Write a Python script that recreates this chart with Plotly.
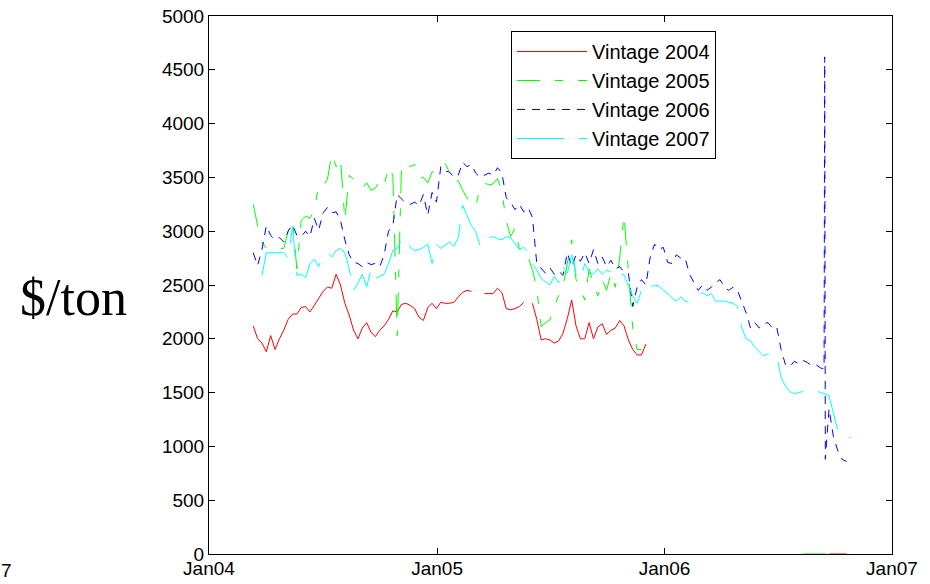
import pandas as pd
import plotly.graph_objects as go

# Weekly price observations ($/ton) for each contract vintage
week_dates = pd.date_range("2004-03-12", periods=138, freq="7D")

vintage_2004 = [
    2120, 2000, 1960, 1880, 2030, 1900, 2000, 2080, 2180, 2230,
    2230, 2290, 2300, 2250, 2310, 2370, 2440, 2480, 2470, 2600,
    2500, 2330, 2220, 2080, 2000, 2100, 2150, 2060, 2020, 2080,
    2120, 2180, 2260, 2250, 2320, 2330, 2310, 2280, 2200, 2170,
    2290, 2330, 2280, 2340, 2330, 2330, 2340, 2390, 2430, 2450,
    2440, None, None, 2420, 2420, 2420, 2470, 2430, 2280, 2270,
    2280, 2300, 2340, None, 2330, 2180, 1990, 2000, 1990, 1960,
    1980, 2050, 2190, 2360, 2120, 2000, 2000, 2150, 2000, 2110,
    2140, 2040, 2080, 2100, 2170, 2120, 1990, 1900, 1850, 1850,
    1950, None, None, None, None, None, None, None, None, None,
    None, None, None, None, None, None, None, None, None, None,
    None, None, None, None, None, None, None, None, None, None,
    None, None, None, None, None, None, None, None, None, None,
    None, None, 0, 0, 0, 0, 0, None,
]

vintage_2005 = [
    3250, 3050, 2900, 2840, 2840, 2840, 2840, 2840, 3000, 3100,
    2650, 3100, 3140, 3120, 3200, 3430, 3420, 3480, 3720, 3600,
    3680, 3100, 3520, 3480, 3420, 3400, 3450, 3380, 3400, 3470,
    3420, 3600, 3520, 2030, 3630, 3630, 3600, 3620, 3490, 3500,
    3450, 3550, 3550, 3600, 3630, 3540, 3460, 3470, 3380, 3310,
    3240, 3230, 3400, 3450, 3430, 3440, 3490, 3360, 3100, 2950,
    3030, 2830, 2760, 2760, 2640, 2470, 2110, 2150, 2175, 2300,
    2400, 2480, 2700, 2920, 2550, 2450, 2360, 2650, 2500, 2400,
    2550, 2450, 2610, 2480, 2750, 3150, 2650, 2100, 1900, 1900,
    None, None, None, None, None, None, None, None, None, None,
    None, None, None, None, None, None, None, None, None, None,
    None, None, None, None, None, None, None, None, None, None,
    None, None, None, None, None, None, 0, 0, 0, 0,
    0, 0, 0, None, None, None, None, None,
]

vintage_2006 = [
    2800, 2680, 2830, 3050, 2960, 2920, 2940, 2900, 3000, 3060,
    2960, 2950, 3000, 2950, 3120, 3010, 3170, 3220, 3170, 3180,
    3100, 2920, 2780, 2710, 2700, 2670, 2710, 2690, 2700, 2670,
    2780, 3000, 3050, 3340, 3300, 3260, 3250, 3270, 3240, 3340,
    3150, 3360, 3270, 3600, 3560, 3550, 3500, 3520, 3640, 3600,
    3620, 3540, 3500, 3520, 3540, 3520, 3590, 3540, 3310, 3270,
    3200, 3250, 3180, 3220, 3130, 2700, 2650, 2610, 2660, 2600,
    2630, 2590, 2800, 2670, 2780, 2720, 2800, 2700, 2830, 2700,
    2760, 2670, 2730, 2650, 2670, 2620, 2610, 2300, 2480, 2550,
    2500, 2760, 2880, 2830, 2850, 2710, 2700, 2780, 2750, 2750,
    2600, 2530, 2450, 2500, 2450, 2480, 2520, 2550, 2480, 2450,
    2480, 2450, 2350, 2240, 2100, 2150, 2100, 2140, 2150, 2100,
    2110, 1900, 1760, 1740, 1790, 1770, 1800, 1780, 1750, 1760,
    1730, 4620, 1350, 1090, 960, 880, 860, None,
]

# Daily quotes around the September 2006 spike in the 2006 vintage
vintage_2006_daily_dates = ["2006-09-14", "2006-09-16"]
vintage_2006_daily_values = [1720, 880]

vintage_2007 = [
    None, None, 2590, 2800, 2800, 2800, 2800, 2800, 2750, 3040,
    2590, 2600, 2570, 2700, 2740, 2670, 2780, 2800, 2760, 2820,
    2840, 2800, 2650, 2450, 2520, 2600, 2480, 2650, 2560, 2580,
    2600, 2700, 2820, 2840, 2920, 2940, 2850, 2820, 2830, 2850,
    2880, 2700, 2880, 2840, 2870, 2900, 2860, 2940, 3240, 3140,
    3050, 3000, 2860, 2920, 2940, 2950, 2930, 2920, 2950, 2940,
    2880, 2830, 2850, 2810, 2700, 2640, 2560, 2530, 2500, 2580,
    2520, 2670, 2610, 2780, 2600, 2550, 2700, 2620, 2600, 2650,
    2600, 2640, 2620, 2660, 2610, 2590, 2500, 2400, 2330, 2450,
    2420, 2480, 2500, 2490, 2450, 2420, 2380, 2350, 2390, 2350,
    2340, 2360, 2400, 2430, 2400, 2420, 2350, 2350, 2350, 2340,
    2330, 2300, 2100, 2000, 1980, 1920, 1880, 1840, 1860, 1840,
    1850, 1640, 1560, 1510, 1490, 1500, 1510, 1520, 1510, 1520,
    1500, 1490, 1470, 1300, 1150, 1100, 1090, 1080,
]

series_names = ["Vintage 2004", "Vintage 2005", "Vintage 2006", "Vintage 2007"]
series_colors = ["#FF0000", "#00FF00", "#0000FF", "#00FFFF"]
series_dashes = ["solid", "23px,15px,8px,15px", "8px,7px", "47px,15px"]

year_ticks = ["2004-01-01", "2005-01-01", "2006-01-01", "2007-01-01"]
year_labels = ["Jan04", "Jan05", "Jan06", "Jan07"]


def weekly(values):
    return pd.Series(values, index=week_dates, dtype="float64")


v2006 = pd.concat([
    weekly(vintage_2006),
    pd.Series(vintage_2006_daily_values, index=pd.to_datetime(vintage_2006_daily_dates), dtype="float64"),
]).sort_index()

series_data = [weekly(vintage_2004), weekly(vintage_2005), v2006, weekly(vintage_2007)]

W, H = 930, 584
L, R, T, B = 209, 38, 16, 30


def px_x(px):
    return (px - L) / (W - L - R)


def px_y(py):
    return (H - B - py) / (H - T - B)


fig = go.Figure()
for name, s, color, dash in zip(series_names, series_data, series_colors, series_dashes):
    fig.add_trace(go.Scatter(
        x=s.index, y=[None if pd.isna(v) else v for v in s.values],
        name=name, mode="lines",
        line=dict(color=color, width=1, dash=dash),
        connectgaps=False,
    ))

axis_common = dict(
    showline=True, linecolor="black", linewidth=1, mirror="allticks",
    ticks="inside", ticklen=6, tickcolor="black", tickwidth=1,
    showgrid=False, zeroline=False, layer="below traces", automargin=False,
    tickfont=dict(family="Liberation Sans, Arial, sans-serif", size=19, color="black"),
)

fig.update_xaxes(
    range=["2004-01-01", "2007-01-01"], tickvals=year_ticks, ticktext=year_labels,
    ticklabelstandoff=-3, **axis_common,
)
fig.update_yaxes(range=[0, 5000], dtick=500, tick0=0, **axis_common)

fig.add_annotation(
    text="$/ton", xref="paper", yref="paper", x=px_x(73), y=px_y(297),
    xanchor="center", yanchor="middle", showarrow=False,
    font=dict(family="Liberation Serif, Times New Roman, serif", size=52, color="black"),
)
fig.add_annotation(
    text="7", xref="paper", yref="paper", x=px_x(14), y=px_y(570),
    xanchor="right", yanchor="middle", showarrow=False,
    font=dict(family="Liberation Sans, Arial, sans-serif", size=19, color="black"),
)

fig.update_layout(
    width=W, height=H,
    margin=dict(l=L, r=R, t=T, b=B, pad=0, autoexpand=False),
    paper_bgcolor="white", plot_bgcolor="white",
    showlegend=True,
    legend=dict(
        x=px_x(511), y=px_y(31), xanchor="left", yanchor="top",
        bgcolor="white", bordercolor="black", borderwidth=1,
        font=dict(family="Liberation Sans, Arial, sans-serif", size=20, color="black"),
        itemwidth=70,
    ),
)

fig.write_html("out.html")
